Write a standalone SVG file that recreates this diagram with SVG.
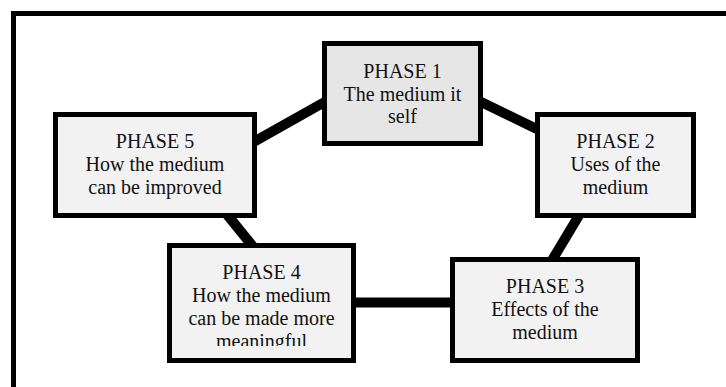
<svg xmlns="http://www.w3.org/2000/svg" width="726" height="387" viewBox="0 0 726 387">
<style>
.box{fill:#f2f2f2;stroke:#000;stroke-width:5}
.box1{fill:#e6e6e6;stroke:#000;stroke-width:5}
.conn{stroke:#000;stroke-width:10;fill:none}
text{font-family:"Liberation Serif","Times New Roman",serif;font-size:20px;fill:#111;text-anchor:middle}
</style>
<defs>
<clipPath id="clip4"><rect x="172" y="248" width="179" height="98"/></clipPath>
</defs>
<rect x="0" y="0" width="726" height="387" fill="#fff"/>
<rect x="13.5" y="13.5" width="800" height="500" fill="#fff" stroke="#000" stroke-width="5"/>
<g id="connectors">
<line class="conn" x1="250" y1="144" x2="330" y2="99"/>
<line class="conn" x1="475" y1="99" x2="545" y2="133"/>
<line class="conn" x1="581" y1="212" x2="551" y2="262"/>
<line class="conn" x1="350" y1="302.5" x2="456" y2="302.5"/>
<line class="conn" x1="225" y1="212" x2="255" y2="249"/>
</g>
<g id="phase1">
<rect class="box1" x="324.5" y="43.5" width="156" height="100"/>
<text x="402.5" y="78">PHASE 1</text>
<text x="402.5" y="100.5">The medium it</text>
<text x="402.5" y="123">self</text>
</g>
<g id="phase2">
<rect class="box" x="537.5" y="114.5" width="156" height="101"/>
<text x="615.5" y="148">PHASE 2</text>
<text x="615.5" y="171">Uses of the</text>
<text x="615.5" y="194">medium</text>
</g>
<g id="phase3">
<rect class="box" x="452.5" y="259.5" width="185" height="101"/>
<text x="545" y="292.5">PHASE 3</text>
<text x="545" y="316">Effects of the</text>
<text x="545" y="339">medium</text>
</g>
<g id="phase4">
<rect class="box" x="169.5" y="245.5" width="184" height="115"/>
<g clip-path="url(#clip4)">
<text x="261.5" y="279">PHASE 4</text>
<text x="261.5" y="302">How the medium</text>
<text x="261.5" y="325">can be made more</text>
<text x="261.5" y="348">meaningful</text>
</g>
</g>
<g id="phase5">
<rect class="box" x="55.5" y="114.5" width="199" height="101"/>
<text x="155" y="148">PHASE 5</text>
<text x="155" y="171">How the medium</text>
<text x="155" y="194">can be improved</text>
</g>
</svg>
